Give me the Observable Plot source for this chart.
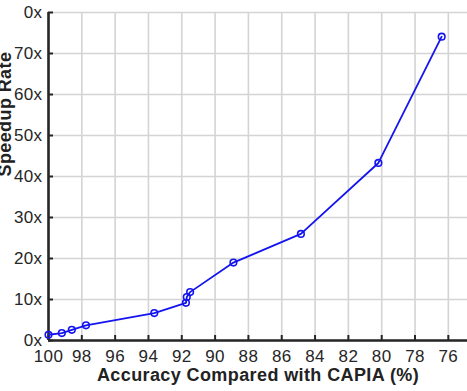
<!DOCTYPE html>
<html><head><meta charset="utf-8">
<script src="https://cdn.jsdelivr.net/npm/d3@7"></script>
<script src="https://cdn.jsdelivr.net/npm/@observablehq/plot@0.6"></script>
<style>
body{margin:0;background:#fff}
svg{display:block}
svg text{letter-spacing:0.4px}
</style>
</head><body><div id="chart"></div>
<script>
const accuracy = [100, 99.2, 98.6, 97.75, 93.65, 91.75, 91.7, 91.5, 88.9, 84.85, 80.2, 76.4];
const speedup  = [1.4, 1.8, 2.6, 3.7, 6.7, 9.2, 10.6, 11.8, 19.0, 26.0, 43.3, 74.1];
const xTicks = [100, 98, 96, 94, 92, 90, 88, 86, 84, 82, 80, 78, 76];
const yTicks = [0, 10, 20, 30, 40, 50, 60, 70, 80];
const yTickLabels = ["0x", "10x", "20x", "30x", "40x", "50x", "60x", "70x", "0x"];
const xLabel = "Accuracy Compared with CAPIA (%)";
const yLabel = "Speedup Rate";

const data = accuracy.map((a, i) => ({accuracy: a, speedup: speedup[i]}));

const chart = Plot.plot({
  width: 467,
  height: 391,
  marginLeft: 48,
  marginRight: 0,
  marginTop: 12,
  marginBottom: 51,
  x: {domain: [100, 74.85]},
  y: {domain: [0, 80]},
  style: {fontFamily: "'Liberation Sans', Arial, Helvetica, sans-serif", background: "#fff", color: "#262626"},
  marks: [
    Plot.gridX(xTicks, {stroke: "#d4d4d4", strokeOpacity: 1, strokeWidth: 1.6}),
    Plot.gridY(yTicks, {stroke: "#d4d4d4", strokeOpacity: 1, strokeWidth: 1.6}),
    Plot.axisX(xTicks, {tickSize: -5, tickPadding: 14, strokeWidth: 2, stroke: "#262626", fontSize: 17, tickFormat: d => String(d), label: null}),
    Plot.axisY(yTicks, {tickSize: -5, tickPadding: 11, strokeWidth: 2, stroke: "#262626", fontSize: 17, tickFormat: (d, i) => yTickLabels[i], label: null}),
    Plot.ruleY([0], {stroke: "#262626", strokeWidth: 2.6}),
    Plot.ruleX([100], {stroke: "#262626", strokeWidth: 2.6}),
    Plot.line(data, {x: "accuracy", y: "speedup", stroke: "#1414f0", strokeWidth: 1.8}),
    Plot.dot(data, {x: "accuracy", y: "speedup", r: 3.3, stroke: "#1414f0", strokeWidth: 1.6, fill: "none"}),
    Plot.text([xLabel], {frameAnchor: "bottom", dy: 40, lineAnchor: "bottom", fontSize: 18, fontWeight: "bold", fill: "#222"}),
    Plot.text([yLabel], {frameAnchor: "left", rotate: -90, dx: -38, lineAnchor: "bottom", fontSize: 18, fontWeight: "bold", fill: "#222"})
  ]
});
document.getElementById("chart").appendChild(chart);
</script>
</body></html>
